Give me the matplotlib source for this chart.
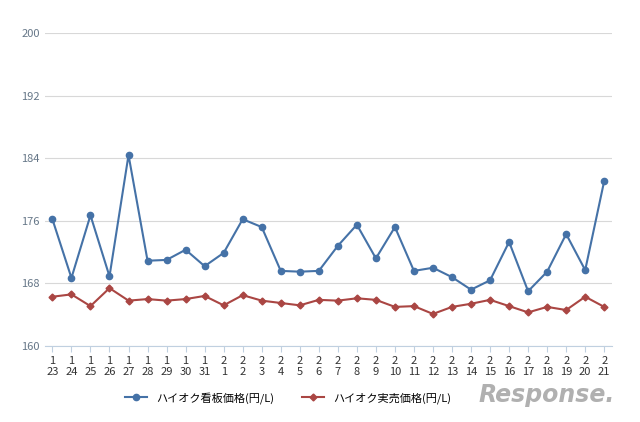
import matplotlib.pyplot as plt
from matplotlib.ticker import MultipleLocator

plt.rcParams["font.family"] = ["Noto Sans CJK JP", "DejaVu Sans"]

months = [1] * 9 + [2] * 21
days = list(range(23, 32)) + list(range(1, 22))
signboard = [176.2, 168.7, 176.7, 168.9, 184.4, 170.9, 171.0, 172.3, 170.2, 171.9,
             176.2, 175.2, 169.6, 169.5, 169.6, 172.8, 175.5, 171.2, 175.2, 169.6,
             170.0, 168.8, 167.2, 168.4, 173.3, 167.0, 169.5, 174.3, 169.7, 181.1]
actual = [166.3, 166.6, 165.1, 167.4, 165.8, 166.0, 165.8, 166.0, 166.4, 165.2,
          166.5, 165.8, 165.5, 165.2, 165.9, 165.8, 166.1, 165.9, 165.0, 165.1,
          164.1, 165.0, 165.4, 165.9, 165.1, 164.3, 165.0, 164.6, 166.3, 165.0]
labels = [f"{m}\n{d}" for m, d in zip(months, days)]

fig = plt.figure(figsize=(6.4, 4.22), dpi=100)
ax = fig.add_axes([0.07, 0.18, 0.886, 0.742])
x = range(len(labels))
ax.plot(x, signboard, color="#4572a7", marker="o", markersize=4.5, linewidth=1.5,
        label="ハイオク看板価格(円/L)")
ax.plot(x, actual, color="#aa4643", marker="D", markersize=3.5, linewidth=1.5,
        label="ハイオク実売価格(円/L)")

ax.set_ylim(160, 200)
ax.set_xlim(-0.4, len(labels) - 0.6)
ax.yaxis.set_major_locator(MultipleLocator(8))
ax.grid(axis="y", color="#d8d8d8", linewidth=0.8)
ax.set_xticks(list(x))
ax.set_xticklabels(labels, fontsize=8, color="#333333", linespacing=1.1)
ax.tick_params(axis="y", labelsize=8, labelcolor="#667788", length=0)
ax.tick_params(axis="x", length=4, color="#c0d0e0")
for s in ["top", "right", "left"]:
    ax.spines[s].set_visible(False)
ax.spines["bottom"].set_color("#c0d0e0")

fig.legend(loc="lower center", bbox_to_anchor=(0.45, 0.02), ncol=2, frameon=False,
           fontsize=8, handlelength=2, columnspacing=2.5)
fig.text(0.96, 0.035, "Response.", fontsize=17, color="#b0b0b0",
         fontweight="bold", ha="right", va="bottom",
         fontfamily="DejaVu Sans", style="italic")

fig.savefig("out.png", dpi=100)
